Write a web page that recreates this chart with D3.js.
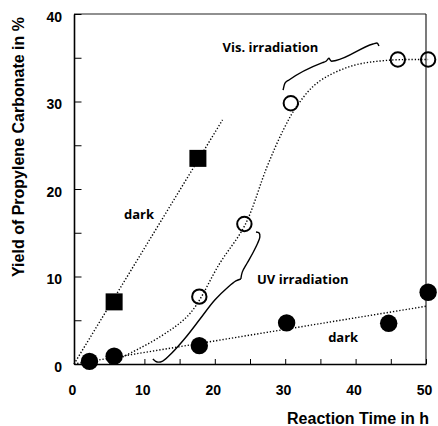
<!DOCTYPE html>
<html>
<head>
<meta charset="utf-8">
<script src="https://cdn.jsdelivr.net/npm/d3@7"></script>
<style>
  body { margin: 0; background: #fff; }
  .axis text { font-family: "Liberation Sans", Arial, sans-serif; font-weight: bold; font-size: 14px; fill: #000; }
  .axis line, .axis path { stroke: #000; }
  .note { font-family: "Open Sans", sans-serif; font-weight: bold; font-size: 13px; fill: #000; }
  .title { font-family: "Liberation Sans", Arial, sans-serif; font-weight: bold; font-size: 16px; fill: #000; }
</style>
</head>
<body>
<script>
// dark run, squares
var squareTime = [5.7, 17.6];
var squareYield = [7.1, 23.5];

// dark run, filled circles
var darkTime = [2.2, 5.7, 17.8, 30.2, 44.7, 50.3];
var darkYield = [0.3, 0.9, 2.1, 4.7, 4.65, 8.2];

// UV then visible irradiation, open circles
var irrTime = [17.8, 24.2, 30.8, 46.0, 50.3];
var irrYield = [7.7, 16.0, 29.8, 34.8, 34.8];

// dotted guide lines
var squareFitTime = [0, 21.1];
var squareFitYield = [0, 27.9];
var darkFitTime = [0, 50];
var darkFitYield = [0, 6.6];
var irrFitTime = [6.9, 12.2, 16.5, 20.7, 24.3, 27.4, 29.7, 31.6, 34.5, 39.2, 44.4, 50.3];
var irrFitYield = [0.8, 3.1, 5.8, 11.5, 15.9, 22.5, 26.7, 29.4, 32.1, 34.0, 34.7, 34.8];

// curly braces, each as two halves meeting at the tip
var uvBraceLowTime = [11.2, 11.8, 12.6, 13.9, 15.8, 17.9, 20.0, 21.9, 23.0, 23.7];
var uvBraceLowYield = [0.57, 0.23, 0.34, 1.26, 2.97, 5.14, 7.31, 8.8, 9.49, 9.71];
var uvBraceHighTime = [23.7, 23.9, 24.6, 25.4, 26.1, 26.4, 26.3, 25.85];
var uvBraceHighYield = [9.71, 10.5, 11.54, 12.69, 13.83, 14.51, 14.97, 15.09];
var visBraceLeftTime = [29.7, 29.97, 30.54, 35.3, 35.8, 36.2];
var visBraceLeftYield = [31.31, 32.11, 32.46, 34.45, 34.6, 34.98];
var visBraceRightTime = [36.2, 36.6, 37.2, 42.47, 43.04, 43.32];
var visBraceRightYield = [34.98, 34.6, 34.68, 36.57, 36.69, 36.34];

// annotations
var noteText = ['Vis. irradiation', 'UV irradiation', 'dark', 'dark'];
var noteTime = [21.1, 26.0, 7.1, 36.1];
var noteYield = [35.7, 9.1, 16.6, 2.55];

var xTicks = [0, 5, 10, 15, 20, 25, 30, 35, 40, 45, 50];
var yTicks = [0, 5, 10, 15, 20, 25, 30, 35, 40];

var width = 438, height = 426;
var margin = { top: 14, right: 12, bottom: 62, left: 74 };

var x = d3.scaleLinear()
  .domain([0, 50])
  .range([margin.left, width - margin.right]);

var y = d3.scaleLinear()
  .domain([0, 40])
  .range([height - margin.bottom, margin.top]);

var svg = d3.select('body').append('svg')
  .attr('width', width)
  .attr('height', height);

var line = d3.line()
  .x(function (d) { return x(d[0]); })
  .y(function (d) { return y(d[1]); });

// frame on top and right
svg.append('line')
  .attr('x1', x(0)).attr('x2', x(50))
  .attr('y1', y(40)).attr('y2', y(40))
  .attr('stroke', '#222').attr('stroke-width', 1.2);
svg.append('line')
  .attr('x1', x(50)).attr('x2', x(50))
  .attr('y1', y(40)).attr('y2', y(0))
  .attr('stroke', '#222').attr('stroke-width', 1.2);

// axes, ticks point inwards
var xAxis = svg.append('g')
  .attr('class', 'axis')
  .attr('transform', 'translate(0,' + y(0) + ')')
  .call(d3.axisBottom(x)
    .tickValues(xTicks)
    .tickSizeInner(-5)
    .tickSizeOuter(0)
    .tickPadding(21)
    .tickFormat(function (d) { return d % 10 === 0 ? d : ''; }));
xAxis.select('.domain').attr('stroke-width', 1.6);
xAxis.selectAll('text').attr('dx', '-0.15em');

var yAxis = svg.append('g')
  .attr('class', 'axis')
  .attr('transform', 'translate(' + x(0) + ',0)')
  .call(d3.axisLeft(y)
    .tickValues(yTicks)
    .tickSizeInner(-7.5)
    .tickSizeOuter(0)
    .tickPadding(12)
    .tickFormat(function (d) { return d % 10 === 0 ? d : ''; }));
yAxis.select('.domain').attr('stroke-width', 1.6);
yAxis.selectAll('text').attr('dy', '0.5em');

// dotted guide lines
[[squareFitTime, squareFitYield, d3.curveLinear],
 [darkFitTime, darkFitYield, d3.curveLinear],
 [irrFitTime, irrFitYield, d3.curveCatmullRom]].forEach(function (s) {
  svg.append('path')
    .datum(d3.zip(s[0], s[1]))
    .attr('fill', 'none')
    .attr('stroke', '#000')
    .attr('stroke-width', 1.4)
    .attr('stroke-dasharray', '1.3,1.9')
    .attr('d', line.curve(s[2]));
});

// braces
[[uvBraceLowTime, uvBraceLowYield, d3.curveCatmullRom],
 [uvBraceHighTime, uvBraceHighYield, d3.curveCatmullRom],
 [visBraceLeftTime, visBraceLeftYield, d3.curveMonotoneX],
 [visBraceRightTime, visBraceRightYield, d3.curveMonotoneX]].forEach(function (s) {
  svg.append('path')
    .datum(d3.zip(s[0], s[1]))
    .attr('fill', 'none')
    .attr('stroke', '#000')
    .attr('stroke-width', 1.4)
    .attr('d', line.curve(s[2]));
});

// squares
svg.selectAll('.sq')
  .data(d3.zip(squareTime, squareYield))
  .enter()
  .append('rect')
    .attr('class', 'sq')
    .attr('x', function (d) { return x(d[0]) - 8.5; })
    .attr('y', function (d) { return y(d[1]) - 8.5; })
    .attr('width', 17)
    .attr('height', 17)
    .attr('fill', '#000');

// filled circles
svg.selectAll('.dk')
  .data(d3.zip(darkTime, darkYield))
  .enter()
  .append('circle')
    .attr('class', 'dk')
    .attr('cx', function (d) { return x(d[0]); })
    .attr('cy', function (d) { return y(d[1]); })
    .attr('r', 8.7)
    .attr('fill', '#000');

// open circles
svg.selectAll('.ir')
  .data(d3.zip(irrTime, irrYield))
  .enter()
  .append('circle')
    .attr('class', 'ir')
    .attr('cx', function (d) { return x(d[0]); })
    .attr('cy', function (d) { return y(d[1]); })
    .attr('r', 7.2)
    .attr('fill', 'none')
    .attr('stroke', '#000')
    .attr('stroke-width', 2);

// annotations
svg.selectAll('.note')
  .data(d3.zip(noteText, noteTime, noteYield))
  .enter()
  .append('text')
    .attr('class', 'note')
    .attr('x', function (d) { return x(d[1]); })
    .attr('y', function (d) { return y(d[2]); })
    .text(function (d) { return d[0]; });

// axis titles
svg.append('text')
  .attr('class', 'title')
  .attr('x', 429)
  .attr('y', 424)
  .attr('text-anchor', 'end')
  .text('Reaction Time in h');

svg.append('text')
  .attr('class', 'title')
  .attr('transform', 'translate(24,147) rotate(-90)')
  .attr('text-anchor', 'middle')
  .text('Yield of Propylene Carbonate in %');
</script>
</body>
</html>
